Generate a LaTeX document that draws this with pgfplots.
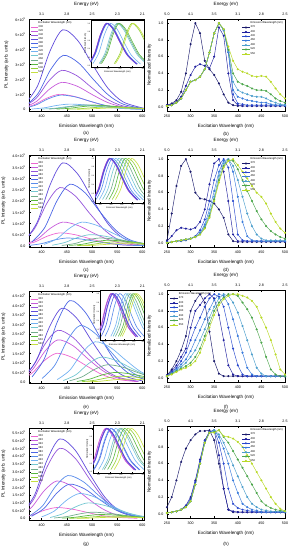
\documentclass[border=0pt]{standalone}
\usepackage{pgfplots}
\usepackage{pgfplotstable}
\pgfplotsset{compat=1.18}
\usepackage{fontspec}
\setmainfont{Liberation Sans}

\definecolor{c1}{rgb}{0.93,0.40,0.82}
\definecolor{c2}{rgb}{0.78,0.36,0.86}
\definecolor{c3}{rgb}{0.58,0.33,0.86}
\definecolor{c4}{rgb}{0.38,0.30,0.86}
\definecolor{c5}{rgb}{0.30,0.40,0.90}
\definecolor{c6}{rgb}{0.35,0.55,0.92}
\definecolor{c7}{rgb}{0.45,0.70,0.95}
\definecolor{c8}{rgb}{0.45,0.78,0.82}
\definecolor{c9}{rgb}{0.45,0.68,0.55}
\definecolor{c10}{rgb}{0.35,0.72,0.25}
\definecolor{c11}{rgb}{0.58,0.82,0.22}
\definecolor{c12}{rgb}{0.78,0.88,0.25}
\definecolor{r1}{rgb}{0.10,0.10,0.42}
\definecolor{r2}{rgb}{0.12,0.12,0.62}
\definecolor{r3}{rgb}{0.15,0.28,0.80}
\definecolor{r4}{rgb}{0.22,0.48,0.86}
\definecolor{r5}{rgb}{0.30,0.62,0.80}
\definecolor{r6}{rgb}{0.30,0.65,0.30}
\definecolor{r7}{rgb}{0.72,0.85,0.15}

\newcommand\E[1]{×10\textsuperscript{#1}}

\pgfplotstableread{
x a b c d e f g
250 0.02 0.02 0.01 0.01 0.01 0.01 0.01
260 0.04 0.03 0.02 0.02 0.02 0.02 0.02
270 0.08 0.06 0.05 0.05 0.05 0.05 0.05
280 0.18 0.12 0.10 0.10 0.10 0.10 0.10
290 0.40 0.25 0.20 0.20 0.20 0.20 0.20
300 0.75 0.38 0.30 0.30 0.30 0.30 0.30
310 1.00 0.48 0.32 0.32 0.32 0.32 0.32
320 0.88 0.51 0.36 0.36 0.36 0.36 0.36
330 0.55 0.49 0.45 0.45 0.45 0.45 0.45
340 0.45 0.46 0.65 0.65 0.65 0.65 0.65
350 0.38 0.60 0.88 0.88 0.88 0.88 0.88
360 0.28 0.95 1.00 1.00 1.00 1.00 1.00
370 0.15 0.85 0.92 0.92 0.92 0.93 0.93
380 0.05 0.40 0.65 0.65 0.66 0.68 0.72
390 0.02 0.08 0.15 0.20 0.30 0.40 0.55
400 0.01 0.02 0.04 0.12 0.20 0.30 0.45
410 0.01 0.01 0.03 0.10 0.17 0.27 0.42
420 0.01 0.01 0.02 0.08 0.15 0.25 0.40
430 0.01 0.01 0.02 0.07 0.13 0.22 0.37
440 0.01 0.01 0.02 0.06 0.12 0.20 0.36
450 0.01 0.01 0.02 0.05 0.12 0.20 0.37
460 0.01 0.01 0.02 0.05 0.10 0.19 0.36
470 0.01 0.01 0.02 0.03 0.07 0.15 0.30
480 0.01 0.01 0.02 0.02 0.05 0.10 0.22
490 0.01 0.01 0.02 0.02 0.03 0.07 0.15
500 0.01 0.01 0.02 0.02 0.02 0.05 0.10
}\tabB

\pgfplotstableread{
x a b c d e f g
250 0.03 0.02 0.01 0.00 0.00 0.00 0.00
260 0.35 0.08 0.01 0.01 0.01 0.01 0.01
270 0.68 0.15 0.02 0.02 0.02 0.02 0.02
280 0.92 0.18 0.02 0.03 0.03 0.03 0.03
290 1.00 0.17 0.03 0.04 0.04 0.04 0.04
300 0.85 0.16 0.05 0.05 0.05 0.05 0.05
310 0.60 0.18 0.08 0.07 0.07 0.07 0.07
320 0.53 0.25 0.15 0.12 0.11 0.10 0.10
330 0.52 0.40 0.28 0.22 0.20 0.18 0.17
340 0.50 0.70 0.50 0.40 0.35 0.32 0.30
350 0.47 0.95 0.75 0.62 0.55 0.52 0.50
360 0.40 1.00 0.93 0.85 0.80 0.75 0.72
370 0.30 0.85 1.00 0.98 0.95 0.92 0.90
380 0.10 0.50 0.90 1.00 1.00 0.99 0.98
390 0.02 0.10 0.50 0.85 0.92 0.98 1.00
400 0.01 0.02 0.10 0.55 0.75 0.88 0.93
410 0.01 0.02 0.03 0.25 0.55 0.75 0.85
420 0.01 0.02 0.02 0.08 0.35 0.62 0.77
430 0.01 0.02 0.02 0.03 0.20 0.50 0.68
440 0.01 0.02 0.02 0.02 0.10 0.38 0.60
450 0.01 0.02 0.02 0.02 0.05 0.28 0.55
460 0.01 0.02 0.02 0.02 0.03 0.20 0.47
470 0.01 0.02 0.02 0.02 0.03 0.14 0.35
480 0.01 0.02 0.02 0.02 0.03 0.10 0.25
490 0.01 0.02 0.02 0.02 0.03 0.07 0.17
500 0.01 0.02 0.02 0.02 0.03 0.05 0.12
}\tabD

\pgfplotstableread{
x a b c d e f g
250 0.03 0.03 0.02 0.02 0.02 0.02 0.02
260 0.10 0.08 0.07 0.06 0.05 0.05 0.04
270 0.20 0.15 0.12 0.10 0.09 0.08 0.07
280 0.33 0.25 0.20 0.16 0.13 0.11 0.10
290 0.50 0.35 0.30 0.22 0.18 0.14 0.12
300 0.80 0.60 0.45 0.32 0.25 0.18 0.15
310 0.92 0.80 0.60 0.45 0.33 0.25 0.20
320 1.00 0.87 0.72 0.57 0.45 0.35 0.30
330 0.90 0.95 0.85 0.70 0.58 0.50 0.45
340 0.55 1.00 0.95 0.82 0.72 0.65 0.60
350 0.20 0.95 1.00 0.93 0.85 0.80 0.75
360 0.05 0.75 0.97 1.00 0.95 0.90 0.87
370 0.02 0.45 0.85 0.98 1.00 0.96 0.94
380 0.02 0.15 0.60 0.88 0.98 1.00 0.98
390 0.02 0.04 0.35 0.70 0.90 1.00 1.00
400 0.02 0.02 0.15 0.50 0.78 0.98 1.00
410 0.02 0.02 0.04 0.30 0.62 0.90 0.98
420 0.02 0.02 0.02 0.12 0.45 0.82 0.96
430 0.02 0.02 0.02 0.04 0.28 0.72 0.92
440 0.02 0.02 0.02 0.02 0.12 0.58 0.85
450 0.02 0.02 0.02 0.02 0.05 0.42 0.72
460 0.02 0.02 0.02 0.02 0.02 0.25 0.60
470 0.02 0.02 0.02 0.02 0.02 0.10 0.45
480 0.02 0.02 0.02 0.02 0.02 0.04 0.28
490 0.02 0.02 0.02 0.02 0.02 0.02 0.10
500 0.02 0.02 0.02 0.02 0.02 0.02 0.04
}\tabF

\pgfplotstableread{
x a b c d e f g
250 0.08 0.01 0.01 0.01 0.01 0.01 0.01
260 0.20 0.02 0.02 0.02 0.02 0.02 0.02
270 0.40 0.03 0.03 0.03 0.03 0.03 0.03
280 0.62 0.05 0.05 0.05 0.05 0.05 0.05
290 0.78 0.10 0.09 0.08 0.08 0.08 0.08
300 0.88 0.20 0.18 0.15 0.15 0.15 0.15
310 0.95 0.40 0.38 0.35 0.35 0.35 0.35
320 0.99 0.65 0.63 0.60 0.60 0.60 0.60
330 0.99 0.88 0.87 0.85 0.85 0.85 0.85
340 1.00 0.98 0.98 0.97 0.97 0.97 0.97
350 0.88 1.00 1.00 1.00 1.00 0.98 0.97
360 0.60 0.70 0.85 0.92 0.95 1.00 1.00
370 0.30 0.30 0.60 0.78 0.85 0.92 0.93
380 0.05 0.05 0.30 0.60 0.72 0.85 0.92
390 0.02 0.03 0.12 0.40 0.58 0.75 0.90
400 0.02 0.02 0.07 0.25 0.45 0.65 0.86
410 0.02 0.02 0.05 0.12 0.32 0.55 0.80
420 0.02 0.02 0.04 0.08 0.20 0.45 0.70
430 0.02 0.02 0.03 0.05 0.12 0.35 0.60
440 0.02 0.02 0.02 0.04 0.08 0.25 0.50
450 0.02 0.02 0.02 0.02 0.05 0.15 0.40
460 0.02 0.02 0.02 0.02 0.04 0.10 0.30
470 0.02 0.02 0.02 0.02 0.03 0.07 0.20
480 0.02 0.02 0.02 0.02 0.03 0.05 0.12
490 0.02 0.02 0.02 0.02 0.03 0.04 0.06
500 0.02 0.02 0.02 0.02 0.03 0.03 0.03
}\tabH

\pgfplotsset{
 base/.style={scale only axis, /pgf/number format/assume math mode=true,
   tick label style={font=\fontsize{3.6}{4}\selectfont},
   label style={font=\fontsize{4.6}{5}\selectfont},
   major tick length=1.6pt,
   axis line style={line width=0.4pt}, every tick/.style={line width=0.3pt, black},
   xtick pos=left, ytick pos=left, legend cell align=left},
 lmain/.style={base, width=115pt, height=92pt, xmin=375, xmax=603,
   xtick={400,450,500,550,600}, xlabel={Emission Wavelength (nm)},
   ylabel={PL Intensity (arb. units)},
   every axis plot/.append style={line width=0.7pt, smooth},
   legend style={at={(0.01,0.985)}, anchor=north west, draw=none, fill=none,
     font=\fontsize{2.7}{3}\selectfont, inner sep=0.3pt, nodes={inner sep=0.35pt}},
   legend image code/.code={\draw[##1,line width=0.5pt] (0pt,0pt) -- (7pt,0pt);}},
 ltop/.style={base, width=115pt, height=92pt, xmin=375, xmax=603, ymin=0, ymax=1,
   axis x line*=top, axis y line=none, xtick pos=right, xtick={400,450,500,550,600},
   xticklabels={3.1,2.8,2.5,2.3,2.1}, xlabel={Energy (eV)}},
 rmain/.style={base, width=118pt, height=92pt, xmin=250, xmax=500, ymin=-0.05, ymax=1.05,
   xtick={250,300,350,400,450,500}, ytick={0,0.2,0.4,0.6,0.8,1},
   yticklabel style={/pgf/number format/fixed, /pgf/number format/fixed zerofill, /pgf/number format/precision=1},
   xlabel={Excitation Wavelength (nm)}, ylabel={Normalized Intensity},
   every axis plot/.append style={line width=0.45pt, mark=*, mark size=0.8pt},
   legend style={at={(0.99,0.985)}, anchor=north east, draw=none, fill=none,
     font=\fontsize{2.7}{3}\selectfont, inner sep=0.3pt, nodes={inner sep=0.5pt}},
   legend image code/.code={\draw[mark repeat=2,mark phase=2,##1] plot coordinates {(0pt,0pt)(4pt,0pt)(8pt,0pt)};}},
 rtop/.style={base, width=118pt, height=92pt, xmin=250, xmax=500, ymin=0, ymax=1,
   axis x line*=top, axis y line=none, xtick pos=right, xtick={250,300,350,400,450,500},
   xticklabels={5.0,4.1,3.5,3.1,2.8,2.5}, xlabel={Energy (eV)}},
 inset/.style={scale only axis, /pgf/number format/assume math mode=true,
   axis background/.style={fill=white}, xmin=375, xmax=603, ymin=-0.02, ymax=1.08,
   xtick={400,450,500,550,600}, ytick={0,0.2,0.4,0.6,0.8,1},
   yticklabel style={/pgf/number format/fixed, /pgf/number format/fixed zerofill, /pgf/number format/precision=1},
   tick label style={font=\fontsize{1.8}{2}\selectfont, inner sep=0.6pt},
   label style={font=\fontsize{2.2}{2.5}\selectfont, inner sep=0.6pt},
   major tick length=0.9pt, xtick pos=left, ytick pos=left,
   axis line style={line width=0.3pt}, every tick/.style={line width=0.25pt, black},
   xlabel={Emission Wavelength (nm)}, ylabel={Normalized Intensity},
   every axis plot/.append style={line width=0.6pt, smooth}},
}

% normalized inset curve: 8 x positions, fixed normalized heights
\newcommand\nc[9]{\addplot[#1] coordinates {(#2,0.06)(#3,0.30)(#4,0.74)(#5,1.00)(#6,0.86)(#7,0.55)(#8,0.26)(#9,0.05)};}

\newcommand\rset[1]{%
\addlegendimage{empty legend}\addlegendentry{Emission Wavelength (nm)}
\addplot[r1] table[x=x,y=a]{#1};\addlegendentry{370}
\addplot[r2] table[x=x,y=b]{#1};\addlegendentry{400}
\addplot[r3] table[x=x,y=c]{#1};\addlegendentry{430}
\addplot[r4] table[x=x,y=d]{#1};\addlegendentry{460}
\addplot[r5] table[x=x,y=e]{#1};\addlegendentry{490}
\addplot[r6] table[x=x,y=f]{#1};\addlegendentry{520}
\addplot[r7] table[x=x,y=g]{#1};\addlegendentry{550}}

\newcommand\lleg{\legend{Excitation Wavelength (nm),300,320,340,360,380,400,420,440,460,480,500,520}}

\begin{document}
\begin{tikzpicture}
\useasboundingbox (0,0) rectangle (293pt,-550pt);

% ================= (a)
\begin{axis}[lmain, at={(29pt,-111pt)}, ymin=-0.11, ymax=6.02, ytick={0,1,2,3,4,5,6},
  yticklabels={0,1\E5,2\E5,3\E5,4\E5,5\E5,6\E5}]
\addlegendimage{empty legend}
\addplot[c1] coordinates {(360,0.06)(385,0.30)(410,0.74)(435,1.00)(465,0.86)(495,0.55)(525,0.26)(555,0.09)(595,0.02)};
\addplot[c2] coordinates {(365,0.12)(390,0.53)(415,1.33)(440,1.80)(470,1.55)(500,0.99)(530,0.47)(560,0.17)(600,0.03)};
\addplot[c3] coordinates {(365,0.17)(390,0.77)(415,1.92)(440,2.60)(470,2.24)(500,1.43)(530,0.68)(560,0.24)(600,0.04)};
\addplot[c4] coordinates {(367,0.34)(392,1.56)(417,3.91)(442,5.30)(472,4.57)(502,2.92)(532,1.39)(562,0.49)(602,0.08)};
\addplot[c5] coordinates {(368,0.23)(393,1.06)(418,2.65)(443,3.60)(473,3.10)(503,1.98)(533,0.94)(563,0.33)(603,0.05)};
\addplot[c6] coordinates {(363,0.06)(388,0.28)(413,0.70)(438,0.95)(468,0.82)(498,0.52)(528,0.25)(558,0.09)(598,0.01)};
\addplot[c7] coordinates {(380,0.02)(405,0.10)(430,0.26)(455,0.35)(485,0.30)(515,0.19)(545,0.09)(575,0.03)(615,0.01)};
\addplot[c8] coordinates {(400,0.02)(425,0.07)(450,0.18)(475,0.25)(505,0.22)(535,0.14)(565,0.07)(595,0.02)(635,0.00)};
\addplot[c9] coordinates {(415,0.02)(440,0.09)(465,0.22)(490,0.30)(520,0.26)(550,0.17)(580,0.08)(610,0.03)(650,0.00)};
\addplot[c10] coordinates {(430,0.02)(455,0.07)(480,0.18)(505,0.25)(535,0.22)(565,0.14)(595,0.07)(625,0.02)(665,0.00)};
\addplot[c11] coordinates {(450,0.01)(475,0.04)(500,0.11)(525,0.15)(555,0.13)(585,0.08)(615,0.04)(645,0.01)(685,0.00)};
\addplot[c12] coordinates {(470,0.01)(495,0.03)(520,0.07)(545,0.10)(575,0.09)(605,0.06)(635,0.03)(665,0.01)(705,0.00)};
\lleg
\end{axis}
\begin{axis}[ltop, at={(29pt,-111pt)}]\end{axis}
\begin{axis}[inset, at={(91pt,-67pt)}, width=53pt, height=47pt]
\nc{c1}{365}{390}{415}{440}{470}{500}{530}{570}
\nc{c2}{366}{391}{416}{441}{471}{501}{531}{571}
\nc{c3}{367}{392}{417}{442}{472}{502}{532}{572}
\nc{c5}{368}{393}{418}{443}{473}{503}{533}{573}
\nc{c6}{370}{395}{420}{445}{475}{505}{535}{575}
\nc{c7}{383}{408}{433}{458}{488}{518}{548}{588}
\nc{c8}{410}{435}{460}{485}{515}{545}{575}{615}
\nc{c9}{415}{440}{465}{490}{520}{550}{580}{620}
\nc{c10}{420}{445}{470}{495}{525}{555}{585}{625}
\nc{c11}{475}{500}{525}{550}{580}{610}{640}{680}
\nc{c12}{480}{505}{530}{555}{585}{615}{645}{685}
\nc{c4,line width=1.1pt}{367}{392}{417}{442}{472}{502}{532}{572}
\end{axis}

% ================= (b)
\begin{axis}[rmain, at={(167pt,-111pt)}]
\rset{\tabB}
\end{axis}
\begin{axis}[rtop, at={(167pt,-111pt)}]\end{axis}

% ================= (c)
\begin{axis}[lmain, at={(29pt,-247pt)}, ymin=-0.05, ymax=4.05, ytick={0,0.5,1,1.5,2,2.5,3,3.5,4},
  yticklabels={0.0,5.0\E4,1.0\E5,1.5\E5,2.0\E5,2.5\E5,3.0\E5,3.5\E5,4.0\E5}]
\addlegendimage{empty legend}
\addplot[c1] coordinates {(361,0.04)(386,0.17)(411,0.43)(436,0.58)(466,0.50)(496,0.32)(526,0.15)(556,0.05)(596,0.01)};
\addplot[c2] coordinates {(367,0.07)(392,0.31)(417,0.78)(442,1.06)(472,0.91)(502,0.58)(532,0.28)(562,0.10)(602,0.02)};
\addplot[c3] coordinates {(361,0.17)(386,0.77)(411,1.92)(436,2.60)(466,2.24)(496,1.43)(526,0.68)(556,0.24)(596,0.04)};
\addplot[c4] coordinates {(367,0.24)(392,1.09)(417,2.73)(442,3.70)(472,3.19)(502,2.04)(532,0.97)(562,0.34)(602,0.06)};
\addplot[c5] coordinates {(381,0.18)(406,0.81)(431,2.03)(456,2.75)(486,2.37)(516,1.51)(546,0.72)(576,0.26)(616,0.04)};
\addplot[c6] coordinates {(375,0.02)(400,0.10)(425,0.26)(450,0.35)(480,0.30)(510,0.19)(540,0.09)(570,0.03)(610,0.01)};
\addplot[c7] coordinates {(405,0.07)(430,0.31)(455,0.78)(480,1.06)(510,0.91)(540,0.58)(570,0.28)(600,0.10)(640,0.02)};
\addplot[c8] coordinates {(421,0.03)(446,0.15)(471,0.37)(496,0.50)(526,0.43)(556,0.28)(586,0.13)(616,0.05)(656,0.01)};
\addplot[c9] coordinates {(440,0.02)(465,0.10)(490,0.26)(515,0.35)(545,0.30)(575,0.19)(605,0.09)(635,0.03)(675,0.01)};
\addplot[c10] coordinates {(455,0.02)(480,0.07)(505,0.18)(530,0.25)(560,0.22)(590,0.14)(620,0.07)(650,0.02)(690,0.00)};
\addplot[c11] coordinates {(470,0.01)(495,0.05)(520,0.13)(545,0.18)(575,0.16)(605,0.10)(635,0.05)(665,0.02)(705,0.00)};
\addplot[c12] coordinates {(480,0.01)(505,0.03)(530,0.07)(555,0.10)(585,0.09)(615,0.06)(645,0.03)(675,0.01)(715,0.00)};
\lleg
\end{axis}
\begin{axis}[ltop, at={(29pt,-247pt)}]\end{axis}
\begin{axis}[inset, at={(95pt,-203pt)}, width=49pt, height=48pt]
\nc{c1}{365}{390}{415}{440}{470}{500}{530}{570}
\nc{c2}{366}{391}{416}{441}{471}{501}{531}{571}
\nc{c3}{367}{392}{417}{442}{472}{502}{532}{572}
\nc{c5}{370}{395}{420}{445}{475}{505}{535}{575}
\nc{c6}{380}{405}{430}{455}{485}{515}{545}{585}
\nc{c7}{395}{420}{445}{470}{500}{530}{560}{600}
\nc{c8}{410}{435}{460}{485}{515}{545}{575}{615}
\nc{c9}{425}{450}{475}{500}{530}{560}{590}{630}
\nc{c10}{440}{465}{490}{515}{545}{575}{605}{645}
\nc{c11}{455}{480}{505}{530}{560}{590}{620}{660}
\nc{c12}{470}{495}{520}{545}{575}{605}{635}{675}
\nc{c4,line width=1.1pt}{368}{393}{418}{443}{473}{503}{533}{573}
\end{axis}

% ================= (d)
\begin{axis}[rmain, at={(167pt,-247pt)}]
\rset{\tabD}
\end{axis}
\begin{axis}[rtop, at={(167pt,-247pt)}]\end{axis}

% ================= (e)
\begin{axis}[lmain, at={(29pt,-383pt)}, ymin=-0.05, ymax=4.75, ytick={0,0.5,1,1.5,2,2.5,3,3.5,4,4.5},
  yticklabels={0.0,5.0\E4,1.0\E5,1.5\E5,2.0\E5,2.5\E5,3.0\E5,3.5\E5,4.0\E5,4.5\E5}]
\addlegendimage{empty legend}
\addplot[c1] coordinates {(355,0.10)(380,0.44)(405,1.11)(430,1.50)(460,1.29)(490,0.83)(520,0.39)(550,0.14)(590,0.02)};
\addplot[c2] coordinates {(357,0.14)(382,0.65)(407,1.62)(432,2.20)(462,1.90)(492,1.21)(522,0.58)(552,0.20)(592,0.03)};
\addplot[c3] coordinates {(357,0.17)(382,0.80)(407,1.99)(432,2.70)(462,2.33)(492,1.49)(522,0.71)(552,0.25)(592,0.04)};
\addplot[c4] coordinates {(365,0.25)(390,1.14)(415,2.84)(440,3.85)(470,3.32)(500,2.12)(530,1.01)(560,0.36)(600,0.06)};
\addplot[c5] coordinates {(381,0.27)(406,1.25)(431,3.13)(456,4.25)(486,3.66)(516,2.34)(546,1.11)(576,0.40)(616,0.06)};
\addplot[c6] coordinates {(401,0.19)(426,0.87)(451,2.17)(476,2.95)(506,2.54)(536,1.62)(566,0.77)(596,0.27)(636,0.04)};
\addplot[c7] coordinates {(431,0.13)(456,0.62)(481,1.55)(506,2.10)(536,1.81)(566,1.16)(596,0.55)(626,0.20)(666,0.03)};
\addplot[c8] coordinates {(443,0.08)(468,0.38)(493,0.96)(518,1.30)(548,1.12)(578,0.72)(608,0.34)(638,0.12)(678,0.02)};
\addplot[c9] coordinates {(455,0.06)(480,0.27)(505,0.66)(530,0.90)(560,0.78)(590,0.50)(620,0.24)(650,0.08)(690,0.01)};
\addplot[c10] coordinates {(470,0.03)(495,0.15)(520,0.37)(545,0.50)(575,0.43)(605,0.28)(635,0.13)(665,0.05)(705,0.01)};
\addplot[c11] coordinates {(480,0.02)(505,0.09)(530,0.22)(555,0.30)(585,0.26)(615,0.17)(645,0.08)(675,0.03)(715,0.00)};
\addplot[c12] coordinates {(490,0.01)(515,0.04)(540,0.11)(565,0.15)(595,0.13)(625,0.08)(655,0.04)(685,0.01)(725,0.00)};
\lleg
\end{axis}
\begin{axis}[ltop, at={(29pt,-383pt)}]\end{axis}
\begin{axis}[inset, at={(100pt,-340pt)}, width=44pt, height=50pt]
\nc{c1}{355}{380}{405}{430}{460}{490}{520}{560}
\nc{c2}{357}{382}{407}{432}{462}{492}{522}{562}
\nc{c3}{357}{382}{407}{432}{462}{492}{522}{562}
\nc{c5}{381}{406}{431}{456}{486}{516}{546}{586}
\nc{c6}{401}{426}{451}{476}{506}{536}{566}{606}
\nc{c7}{431}{456}{481}{506}{536}{566}{596}{636}
\nc{c8}{443}{468}{493}{518}{548}{578}{608}{648}
\nc{c9}{455}{480}{505}{530}{560}{590}{620}{660}
\nc{c10}{470}{495}{520}{545}{575}{605}{635}{675}
\nc{c11}{480}{505}{530}{555}{585}{615}{645}{685}
\nc{c12}{490}{515}{540}{565}{595}{625}{655}{695}
\nc{c4,line width=1.1pt}{365}{390}{415}{440}{470}{500}{530}{570}
\end{axis}

% ================= (f)
\begin{axis}[rmain, at={(167pt,-382pt)}, legend style={at={(0.02,0.985)}, anchor=north west}]
\rset{\tabF}
\end{axis}
\begin{axis}[rtop, at={(167pt,-382pt)}]\end{axis}

% ================= (g)
\begin{axis}[lmain, at={(29pt,-520pt)}, ymin=-0.1, ymax=5.8, ytick={0,0.5,1,1.5,2,2.5,3,3.5,4,4.5,5,5.5},
  yticklabels={0.0,5.0\E4,1.0\E5,1.5\E5,2.0\E5,2.5\E5,3.0\E5,3.5\E5,4.0\E5,4.5\E5,5.0\E5,5.5\E5}]
\addlegendimage{empty legend}
\addplot[c1] coordinates {(355,0.04)(380,0.21)(405,0.52)(430,0.70)(460,0.60)(490,0.39)(520,0.18)(550,0.07)(590,0.01)};
\addplot[c2] coordinates {(355,0.15)(380,0.71)(405,1.77)(430,2.40)(460,2.07)(490,1.32)(520,0.63)(550,0.22)(590,0.04)};
\addplot[c3] coordinates {(361,0.29)(386,1.33)(411,3.32)(436,4.50)(466,3.88)(496,2.48)(526,1.18)(556,0.42)(596,0.07)};
\addplot[c4] coordinates {(361,0.33)(386,1.50)(411,3.76)(436,5.10)(466,4.40)(496,2.81)(526,1.34)(556,0.47)(596,0.08)};
\addplot[c5] coordinates {(380,0.14)(405,0.65)(430,1.62)(455,2.20)(485,1.90)(515,1.21)(545,0.58)(575,0.20)(615,0.03)};
\addplot[c6] coordinates {(377,0.18)(402,0.81)(427,2.03)(452,2.75)(482,2.37)(512,1.51)(542,0.72)(572,0.26)(612,0.04)};
\addplot[c7] coordinates {(400,0.10)(425,0.47)(450,1.18)(475,1.60)(505,1.38)(535,0.88)(565,0.42)(595,0.15)(635,0.02)};
\addplot[c8] coordinates {(417,0.06)(442,0.30)(467,0.74)(492,1.00)(522,0.86)(552,0.55)(582,0.26)(612,0.09)(652,0.02)};
\addplot[c9] coordinates {(425,0.03)(450,0.12)(475,0.29)(500,0.40)(530,0.34)(560,0.22)(590,0.10)(620,0.04)(660,0.01)};
\addplot[c10] coordinates {(440,0.02)(465,0.07)(490,0.18)(515,0.25)(545,0.22)(575,0.14)(605,0.07)(635,0.02)(675,0.00)};
\addplot[c11] coordinates {(455,0.01)(480,0.04)(505,0.11)(530,0.15)(560,0.13)(590,0.08)(620,0.04)(650,0.01)(690,0.00)};
\addplot[c12] coordinates {(470,0.01)(495,0.02)(520,0.06)(545,0.08)(575,0.07)(605,0.04)(635,0.02)(665,0.01)(705,0.00)};
\lleg
\end{axis}
\begin{axis}[ltop, at={(29pt,-520pt)}]\end{axis}
\begin{axis}[inset, at={(93pt,-473pt)}, width=51pt, height=48pt]
\nc{c1}{355}{380}{405}{430}{460}{490}{520}{560}
\nc{c2}{355}{380}{405}{430}{460}{490}{520}{560}
\nc{c3}{361}{386}{411}{436}{466}{496}{526}{566}
\nc{c5}{380}{405}{430}{455}{485}{515}{545}{585}
\nc{c6}{377}{402}{427}{452}{482}{512}{542}{582}
\nc{c7}{400}{425}{450}{475}{505}{535}{565}{605}
\nc{c8}{417}{442}{467}{492}{522}{552}{582}{622}
\nc{c9}{425}{450}{475}{500}{530}{560}{590}{630}
\nc{c10}{440}{465}{490}{515}{545}{575}{605}{645}
\nc{c11}{455}{480}{505}{530}{560}{590}{620}{660}
\nc{c12}{470}{495}{520}{545}{575}{605}{635}{675}
\nc{c4,line width=1.1pt}{361}{386}{411}{436}{466}{496}{526}{566}
\end{axis}

% ================= (h)
\begin{axis}[rmain, at={(167pt,-518pt)}]
\rset{\tabH}
\end{axis}
\begin{axis}[rtop, at={(167pt,-518pt)}]\end{axis}

% panel letters
\node[font=\fontsize{4.5}{5}\selectfont] at (86pt,-133pt) {(a)};
\node[font=\fontsize{4.5}{5}\selectfont] at (226pt,-134pt) {(b)};
\node[font=\fontsize{4.5}{5}\selectfont] at (86pt,-270pt) {(c)};
\node[font=\fontsize{4.5}{5}\selectfont] at (226pt,-270pt) {(d)};
\node[font=\fontsize{4.5}{5}\selectfont] at (86pt,-407pt) {(e)};
\node[font=\fontsize{4.5}{5}\selectfont] at (226pt,-407pt) {(f)};
\node[font=\fontsize{4.5}{5}\selectfont] at (86pt,-544pt) {(g)};
\node[font=\fontsize{4.5}{5}\selectfont] at (226pt,-544pt) {(h)};
\end{tikzpicture}
\end{document}
